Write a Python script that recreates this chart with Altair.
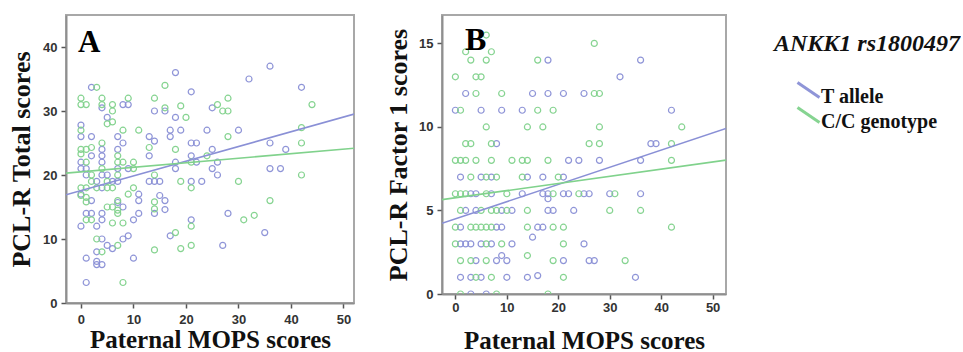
import altair as alt
import pandas as pd

GROUPS = ["T allele", "C/C genotype"]
COLORS = ["#8a90d6", "#80d28c"]

# ---- Panel A: PCL-R Total scores by Paternal MOPS scores ----
a_t_x = [18, 36, 32, 42, 2, 21, 4, 8, 9, 25, 14, 16, 5, 18, 0, 17, 19, 24, 30, 0, 2, 7, 13, 17,
         14, 8, 21, 22, 36, 4, 7, 25, 39, 2, 4, 13, 21, 0, 4, 18, 22, 26, 0, 1, 7, 9, 18, 25, 36,
         38, 1, 4, 5, 26, 3, 6, 7, 13, 14, 15, 21, 23, 4, 0, 11, 15, 2, 7, 11, 16, 8, 16, 1, 2, 4,
         11, 14, 28, 4, 10, 21, 0, 3, 35, 17, 4, 8, 9, 5, 6, 27, 3, 1, 10, 3, 3, 4, 1]
a_t_y = [36, 37, 35, 33.7, 33.7, 33, 30.5, 31, 31, 30.5, 30, 30, 29, 29, 27.8, 27, 27, 27, 27, 26,
         26, 26, 26, 26, 25.3, 25, 25, 25, 25, 24, 24, 24, 24, 23, 23, 23, 23, 22, 22, 22, 22, 22,
         21, 21, 21, 21, 21, 21, 21, 21, 20, 20, 20, 20, 19, 19, 19, 19, 19, 19, 19, 19, 18, 17,
         17, 16.8, 16, 15.7, 16, 16, 15, 14.6, 14, 14, 14, 14, 14, 14, 13, 13, 13, 12, 12, 11,
         10.5, 10, 10, 10.5, 9, 8.5, 9, 8, 7, 7, 6.5, 6, 6, 3.2]

a_c_x = [3, 16, 0, 4, 9, 14, 28, 0, 1, 4, 6, 16, 19, 26, 44, 6, 27, 28, 5, 6, 20, 0, 8, 11, 42,
         28, 4, 42, 0, 1, 2, 13, 18, 0, 7, 24, 1, 7, 8, 10, 21, 4, 10, 2, 7, 14, 42, 2, 5, 19, 30,
         0, 1, 3, 5, 6, 10, 21, 9, 0, 1, 1, 7, 14, 36, 5, 6, 7, 14, 7, 33, 1, 2, 31, 6, 8, 21, 18,
         3, 7, 14, 19, 21, 4, 8]
a_c_y = [33.7, 34, 32, 32, 32, 32, 32, 31, 31, 31, 31, 30.5, 30.8, 31, 31, 30, 30, 30, 28, 28.3,
         29, 27, 27, 27, 27.4, 26, 25, 25, 24, 24, 24.3, 24.3, 24, 23.3, 23, 23, 22, 22, 22, 22,
         22, 21, 21, 20, 20, 20, 20, 19, 19, 19, 19, 18, 18, 18, 18, 18, 18, 18, 17, 16.8, 16.5,
         15.8, 16, 15.8, 16, 15, 15, 14.5, 14.7, 14, 13.7, 13, 13, 13, 12.5, 12.5, 12, 11, 10, 9,
         8.3, 8.5, 9, 8, 3.2]

# ---- Panel B: PCL-R Factor 1 scores by Paternal MOPS scores ----
b_t_x = [18, 36, 32, 2, 15, 18, 21, 25, 0, 5, 9, 13, 42, 8, 38, 39, 22, 24, 28, 36, 1, 5, 7, 14,
         17, 21, 3, 4, 7, 13, 17, 18, 21, 22, 25, 26, 30, 36, 18, 2, 4, 9, 11, 18, 19, 23, 1, 8,
         9, 16, 17, 15, 1, 2, 3, 5, 7, 11, 25, 9, 4, 8, 10, 21, 26, 27, 1, 3, 5, 10, 14, 16, 35,
         3, 6]
b_t_y = [14, 14, 13, 12, 12, 12, 12, 12, 11, 11, 11, 11, 11, 9, 9, 9, 8, 8, 8, 8, 7, 7, 7, 7, 7,
         7, 6, 6, 6, 6, 6, 6, 6, 6, 6, 6, 6, 6, 5.7, 5, 5, 5, 5, 5, 5, 5, 4, 4, 4, 4, 4, 3.4, 3,
         3, 3, 3, 3, 3, 3, 2.3, 2, 2, 2, 2, 2, 2, 1, 1, 1, 1, 1, 1.1, 1, 0, 0]

b_c_x = [27, 6, 2, 7, 3, 6, 16, 0, 4, 5, 4, 9, 27, 28, 1, 16, 19, 6, 14, 17, 28, 44, 2, 3, 7, 26,
         28, 42, 0, 1, 2, 4, 7, 11, 13, 14, 18, 42, 3, 6, 8, 13, 20, 0, 1, 2, 6, 10, 19, 24, 31,
         1, 5, 7, 8, 10, 14, 30, 36, 0, 3, 4, 5, 6, 7, 14, 19, 21, 42, 0, 6, 9, 21, 14, 1, 3, 6,
         19, 33, 4, 7, 21, 1, 8, 18]
b_c_y = [15, 15.5, 14.5, 14.5, 14, 14, 14, 13, 13, 13, 12, 12, 12, 12, 11, 11, 11, 10, 10, 10, 10,
         10, 9, 9, 9, 9, 9, 9, 8, 8, 8, 8, 8, 8, 8, 8, 8, 8, 7, 7, 7, 7, 7, 6, 6, 6, 6, 6, 6, 6, 6,
         5, 5, 5, 5, 5, 5, 5, 5, 4, 4, 4, 4, 4, 4, 4, 4, 4, 4, 3, 3, 3, 3, 2.3, 2, 2, 2, 2, 2, 1,
         1, 1, 0, 0, 0]

# Fit lines per group (intercept, slope)
a_fit_intercept = [17.56, 20.5]
a_fit_slope = [0.230, 0.0707]
b_fit_intercept = [4.50, 5.76]
b_fit_slope = [0.1029, 0.0429]

A_XDOM = [-2.85, 52.0]
B_XDOM = [-2.6, 52.6]
A_YDOM = [0, 45]
B_YDOM = [0, 16.7]


def points_frame(tx, ty, cx, cy):
    return pd.concat([
        pd.DataFrame({"x": tx, "y": ty, "group": GROUPS[0]}),
        pd.DataFrame({"x": cx, "y": cy, "group": GROUPS[1]}),
    ], ignore_index=True)


def fit_frame(intercepts, slopes, xdom):
    rows = []
    for g, b0, b1 in zip(GROUPS, intercepts, slopes):
        for xv in xdom:
            rows.append({"x": xv, "y": b0 + b1 * xv, "group": g})
    return pd.DataFrame(rows)


color = alt.Color(
    "group:N",
    scale=alt.Scale(domain=GROUPS, range=COLORS),
    legend=alt.Legend(
        title="ANKK1 rs1800497",
        orient="none",
        legendX=708,
        legendY=17,
        padding=0,
        titleFont="Liberation Serif",
        titleFontSize=24,
        titleFontStyle="italic",
        titleFontWeight="bold",
        titleColor="#111111",
        titlePadding=28,
        titleLimit=400,
        labelFont="Liberation Serif",
        labelFontSize=20,
        labelFontWeight="bold",
        labelColor="#111111",
        labelLimit=400,
        labelOffset=0,
        labelBaseline="middle",
        symbolType="M-1,-1.27L1,0.09",
        symbolSize=484,
        symbolStrokeWidth=3,
        symbolOffset=22,
        rowPadding=-6,
    ),
)


def panel(pts, fit, xdom, ydom, yticks, ytitle, letter, letter_x, letter_y, letter_size,
          w, h, x_label_pad, x_title_pad, y_title_pad):
    x = alt.X("x:Q", scale=alt.Scale(domain=xdom, nice=False, zero=False),
              axis=alt.Axis(values=[0, 10, 20, 30, 40, 50], title="Paternal MOPS scores",
                            labelPadding=x_label_pad, titlePadding=x_title_pad))
    y = alt.Y("y:Q", scale=alt.Scale(domain=ydom, nice=False),
              axis=alt.Axis(values=yticks, title=ytitle, labelPadding=4,
                            titleFontSize=26, titlePadding=y_title_pad))
    dots = alt.Chart(pts).mark_point(filled=False, size=36, strokeWidth=1.2, opacity=0.95,
                                     clip=True).encode(x=x, y=y, color=color)
    lines = alt.Chart(fit).mark_line(strokeWidth=1.6, clip=True).encode(
        x=x, y=y, color=color, detail="group:N")
    tag = alt.Chart(alt.Data(values=[{"t": letter}])).mark_text(
        font="Liberation Serif", fontSize=letter_size, fontWeight="bold", color="black",
        align="left", baseline="alphabetic").encode(
        text="t:N", x=alt.value(letter_x), y=alt.value(letter_y))
    return alt.layer(dots, lines, tag).properties(width=w, height=h)


chart_a = panel(points_frame(a_t_x, a_t_y, a_c_x, a_c_y),
                fit_frame(a_fit_intercept, a_fit_slope, A_XDOM),
                A_XDOM, A_YDOM, [0, 10, 20, 30, 40], "PCL-R Total scores", "A", 12, 37, 31,
                288, 288, 5, 1, 8)
chart_b = panel(points_frame(b_t_x, b_t_y, b_c_x, b_c_y),
                fit_frame(b_fit_intercept, b_fit_slope, B_XDOM),
                B_XDOM, B_YDOM, [0, 5, 10, 15], "PCL-R Factor 1 scores", "B", 23, 35, 32,
                284, 279, 2, 14, 7)

chart = alt.hconcat(chart_a, chart_b, spacing=29).resolve_scale(
    x="independent", y="independent"
).properties(
    padding={"left": 7, "top": 14, "right": 0, "bottom": 0},
    background="white",
).configure_view(
    stroke="#a8a8a8", strokeWidth=2
).configure_axis(
    grid=False,
    domainColor="#8f8f8f",
    domainWidth=2,
    tickColor="#555555",
    tickSize=5,
    tickWidth=1.5,
    labelFont="Liberation Sans",
    labelFontWeight="bold",
    labelFontSize=13,
    labelColor="#333333",
    titleFont="Liberation Serif",
    titleFontWeight="bold",
    titleFontSize=25,
    titleColor="#111111",
)

chart.save("out.html", embed_options={"renderer": "svg", "actions": False})
